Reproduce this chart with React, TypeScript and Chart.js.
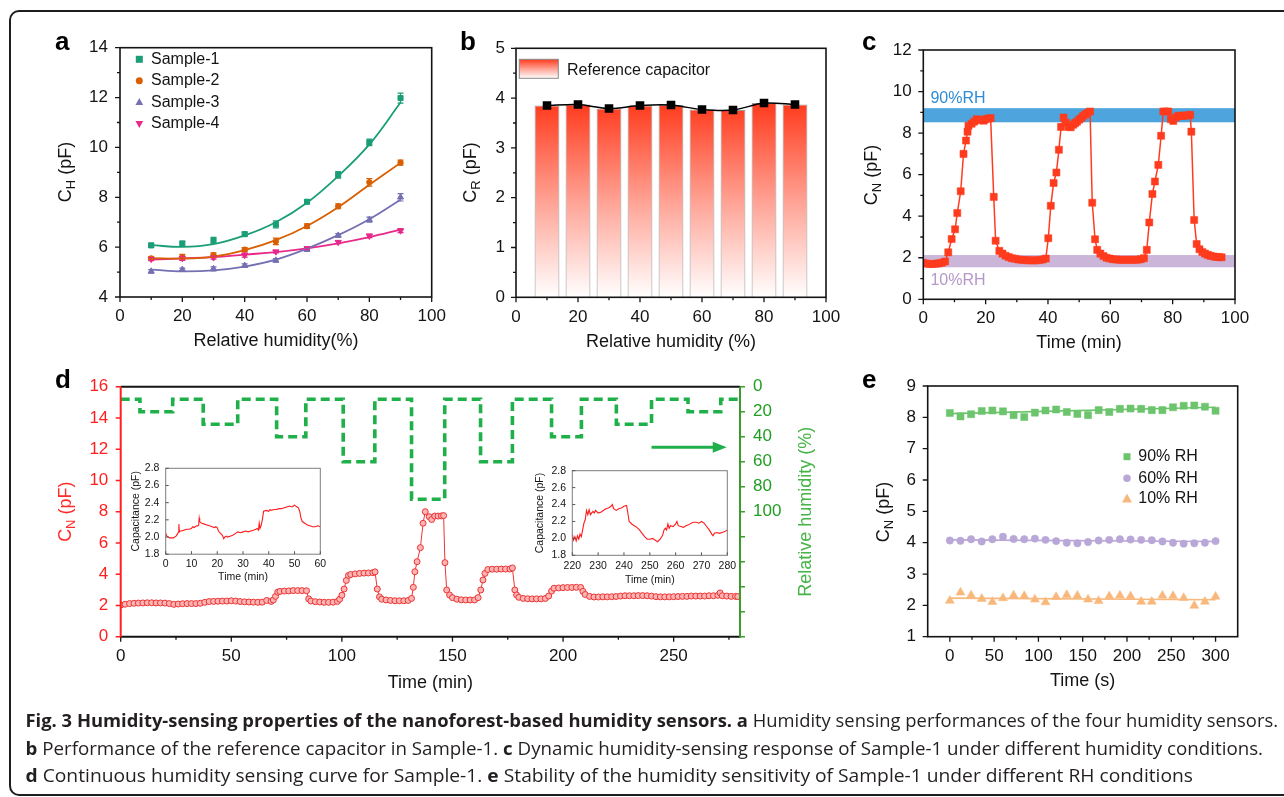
import React, { useEffect, useRef } from 'react';
import { Chart, registerables } from 'chart.js';

Chart.register(...registerables);

const PAGE_W = 1284;
const PAGE_H = 797;
const SANS = "'Liberation Sans', Arial, Helvetica, sans-serif";
const CAP_FONT = "'Open Sans', 'Noto Sans', sans-serif";
Chart.defaults.font.family = SANS;

/* ---------------- panel a ---------------- */
const rhA = [10, 20, 30, 40, 50, 60, 70, 80, 90];
const sample1 = [6.07, 6.14, 6.27, 6.52, 6.91, 7.82, 8.9, 10.2, 11.98];
const sample1Err = [0.08, 0.1, 0.12, 0.08, 0.14, 0.08, 0.13, 0.13, 0.2];
const sample1Fit = [6.08, 6.01, 6.12, 6.47, 7.0, 7.78, 8.85, 10.12, 11.8];
const sample2 = [5.55, 5.6, 5.68, 5.9, 6.23, 6.84, 7.64, 8.6, 9.39];
const sample2Err = [0.07, 0.11, 0.09, 0.08, 0.13, 0.09, 0.1, 0.15, 0.1];
const sample2Fit = [5.56, 5.54, 5.62, 5.88, 6.28, 6.85, 7.6, 8.5, 9.38];
const sample3 = [5.03, 5.1, 5.13, 5.26, 5.47, 5.9, 6.47, 7.1, 8.0];
const sample3Err = [0.07, 0.06, 0.08, 0.07, 0.07, 0.05, 0.07, 0.1, 0.15];
const sample3Fit = [5.1, 5.03, 5.07, 5.22, 5.5, 5.94, 6.48, 7.12, 7.9];
const sample4 = [5.52, 5.55, 5.58, 5.68, 5.82, 5.95, 6.2, 6.45, 6.66];
const sample4Err = [0.06, 0.08, 0.06, 0.08, 0.05, 0.05, 0.06, 0.07, 0.08];
const sample4Fit = [5.5, 5.55, 5.6, 5.7, 5.8, 5.95, 6.15, 6.4, 6.7];
const aXTicks = [0, 20, 40, 60, 80, 100];
const aYTicks = [4, 6, 8, 10, 12, 14];
const aXMinor = [10, 30, 50, 70, 90];
const aYMinor = [5, 7, 9, 11, 13];

/* ---------------- panel b ---------------- */
const rhB = [10, 20, 30, 40, 50, 60, 70, 80, 90];
const refCap = [3.85, 3.87, 3.79, 3.85, 3.86, 3.77, 3.76, 3.9, 3.87];
const bXTicks = [0, 20, 40, 60, 80, 100];
const bYTicks = [0, 1, 2, 3, 4, 5];
const bXMinor = [10, 30, 50, 70, 90];
const bYMinor = [0.5, 1.5, 2.5, 3.5, 4.5];

/* ---------------- panel c ---------------- */
const dynC: [number, number][] = [
  [0, 1.75], [1, 1.72], [2, 1.7], [3, 1.7], [4, 1.71], [5, 1.73], [6, 1.76], [7, 1.82], [8, 2.26], [9.1, 2.9],
  [10.2, 3.37], [10.9, 4.15], [12, 5.2], [12.9, 7.0], [13.7, 7.64], [14.2, 8.07], [14.5, 8.35], [15.5, 8.45],
  [16.3, 8.55], [17.1, 8.67], [17.9, 8.62], [18.7, 8.64], [19.4, 8.6], [20, 8.67], [20.8, 8.7], [21.6, 8.72],
  [22.6, 4.93], [23.2, 2.82], [24.4, 2.33], [25.4, 2.2], [26.4, 2.1], [27.4, 2.03], [28.4, 1.98], [29.4, 1.95],
  [30.4, 1.92], [31.4, 1.9], [32.4, 1.89], [33.4, 1.88], [34.4, 1.88], [35.4, 1.87], [36.4, 1.88], [37.4, 1.89],
  [38.4, 1.92], [39.3, 1.96], [40.1, 2.94], [40.9, 4.5], [41.8, 5.6], [42.7, 6.1], [43.5, 7.2], [44.2, 8.3],
  [45, 8.75], [45.8, 8.5], [46.6, 8.3], [47.3, 8.28], [48.1, 8.4], [48.7, 8.48], [49.3, 8.55], [50, 8.65],
  [50.7, 8.72], [51.3, 8.82], [52, 8.9], [52.7, 8.98], [53.5, 9.04], [54.2, 4.65], [55.1, 2.89], [55.8, 2.38],
  [56.8, 2.2], [57.8, 2.08], [58.8, 2.0], [59.8, 1.96], [60.8, 1.93], [61.8, 1.92], [62.8, 1.9], [63.8, 1.9],
  [64.8, 1.9], [65.8, 1.9], [66.8, 1.9], [67.8, 1.9], [68.8, 1.91], [69.8, 1.93], [70.8, 1.98], [71.7, 2.38],
  [72.5, 3.7], [73.5, 5.07], [74.3, 5.67], [75.4, 6.47], [76.3, 7.87], [77, 9.04], [77.8, 9.04], [78.6, 9.04],
  [79.4, 8.67], [80.2, 8.59], [81, 8.75], [81.8, 8.83], [82.6, 8.83], [83.4, 8.83], [84.2, 8.85], [85, 8.85],
  [85.6, 8.88], [86, 8.07], [86.9, 3.82], [87.7, 2.66], [88.6, 2.41], [89.5, 2.28], [90.4, 2.2], [91.3, 2.14],
  [92.2, 2.09], [93.1, 2.06], [94, 2.04], [94.9, 2.03], [95.7, 2.02],
];
const band90 = [8.52, 9.2];
const band10 = [1.54, 2.13];
const cXTicks = [0, 20, 40, 60, 80, 100];
const cYTicks = [0, 2, 4, 6, 8, 10, 12];
const cXMinor = [10, 30, 50, 70, 90];
const cYMinor = [1, 3, 5, 7, 9, 11];

/* ---------------- panel d ---------------- */
const capD: [number, number][] = [
  [0, 2.02], [2, 2.08], [4, 2.12], [6, 2.14], [8, 2.15], [10, 2.16], [12, 2.17], [14, 2.17], [16, 2.16], [18, 2.16],
  [20, 2.15], [22, 2.12], [24, 2.07], [26, 2.09], [28, 2.11], [30, 2.12], [32, 2.12], [34, 2.12], [36, 2.14], [38, 2.2],
  [40, 2.25], [42, 2.26], [44, 2.27], [46, 2.28], [48, 2.28], [50, 2.3], [52, 2.28], [54, 2.25], [56, 2.23], [58, 2.22],
  [60, 2.21], [62, 2.2], [64, 2.21], [66, 2.32], [68, 2.26], [69, 2.35], [70, 2.58], [71, 2.85], [72, 2.9], [74, 2.92],
  [76, 2.93], [78, 2.95], [80, 2.95], [82, 2.95], [84, 2.94], [85, 2.42], [86, 2.28], [88, 2.24], [90, 2.22], [92, 2.2],
  [94, 2.2], [96, 2.21], [98, 2.26], [99, 2.4], [100, 2.65], [101, 3.05], [102, 3.6], [103, 3.92], [104, 3.98], [106, 4.02],
  [108, 4.05], [110, 4.07], [112, 4.08], [114, 4.1], [115, 4.15], [116, 3.05], [117, 2.55], [118, 2.4], [120, 2.35], [122, 2.32],
  [124, 2.3], [126, 2.3], [128, 2.3], [130, 2.32], [131.5, 2.45], [132.3, 3.16], [133, 4.16], [134, 4.8], [135.5, 5.7], [136.7, 7.26],
  [137.7, 8.0], [139.5, 7.68], [140.6, 7.5], [142, 7.72], [143.5, 7.72], [145, 7.73], [146, 7.75], [146.6, 4.74], [147.4, 2.99], [148.7, 2.67],
  [150, 2.5], [152, 2.4], [154, 2.36], [156, 2.35], [158, 2.35], [160, 2.35], [161.6, 2.5], [162.8, 2.99], [163.8, 3.63], [164.7, 4.05],
  [166, 4.3], [168, 4.32], [170, 4.32], [172, 4.33], [174, 4.33], [176, 4.33], [177.1, 4.4], [178.2, 2.99], [179, 2.67], [180, 2.52],
  [182, 2.45], [184, 2.43], [186, 2.42], [188, 2.42], [190, 2.42], [192, 2.45], [193.5, 2.6], [194.8, 2.92], [195.9, 3.1], [198, 3.12],
  [200, 3.14], [202, 3.15], [204, 3.15], [206, 3.16], [208, 3.15], [209, 2.9], [210, 2.7], [212, 2.58], [214, 2.54], [216, 2.54],
  [218, 2.55], [220, 2.55], [222, 2.56], [224, 2.57], [226, 2.6], [228, 2.62], [230, 2.62], [232, 2.62], [234, 2.63], [236, 2.63],
  [238, 2.62], [240, 2.6], [242, 2.56], [244, 2.55], [246, 2.55], [248, 2.55], [250, 2.56], [252, 2.57], [254, 2.58], [256, 2.58],
  [258, 2.6], [260, 2.6], [262, 2.6], [264, 2.6], [266, 2.62], [268, 2.62], [270, 2.65], [271, 2.8], [272, 2.62], [274, 2.6],
  [276, 2.58], [278, 2.58], [279, 2.57],
];
const rhStepD: [number, number][] = [
  [0, 10], [8.7, 20], [23.5, 10], [37.3, 30], [52.9, 10], [70.5, 40], [83.7, 10], [100.6, 60], [114.9, 10], [131.5, 90],
  [146.5, 10], [162.7, 60], [177.1, 10], [194.8, 40], [208.3, 10], [224.1, 30], [240, 10], [256.5, 20], [271.3, 10], [280, 10],
];
const arrowRH = 48.5;
const arrowTime = [240, 274];
const dXTicks = [0, 50, 100, 150, 200, 250];
const dXMinor = [25, 75, 125, 175, 225, 275];
const dYTicks = [0, 2, 4, 6, 8, 10, 12, 14, 16];
const dY2Ticks = [0, 20, 40, 60, 80, 100];
const dY2Marks = [0, 20, 40, 60, 80, 100, 120, 140, 160, 180, 200];

const inset1: [number, number][] = [
  [0, 2.04], [0.5, 2.01], [1, 2.0], [1.5, 1.99], [2, 1.99], [3, 1.99], [4, 2.01], [4.5, 2.03], [5, 2.06], [5.1, 2.15],
  [5.3, 2.06], [5.6, 2.07], [6, 2.07], [7, 2.08], [8, 2.09], [9, 2.09], [10, 2.1], [10.5, 2.12], [11, 2.11], [12, 2.13],
  [12.5, 2.13], [12.8, 2.14], [13, 2.22], [13.2, 2.18], [13.5, 2.17], [14, 2.16], [15, 2.15], [16, 2.14], [17, 2.13], [18, 2.12],
  [19, 2.11], [19.5, 2.12], [20, 2.11], [20.5, 2.07], [21, 2.05], [22, 2.02], [22.5, 1.98], [23, 2.0], [23.5, 2.01], [24, 2.0],
  [25, 2.01], [26, 2.02], [27, 2.04], [28, 2.06], [29, 2.05], [30, 2.06], [31, 2.07], [32, 2.06], [33, 2.07], [34, 2.08],
  [35, 2.09], [35.5, 2.1], [36, 2.08], [36.3, 2.16], [36.6, 2.1], [37, 2.13], [37.5, 2.2], [38, 2.3], [39, 2.31], [40, 2.3],
  [40.5, 2.32], [41, 2.31], [42, 2.32], [43, 2.32], [44, 2.33], [45, 2.33], [46, 2.34], [47, 2.35], [48, 2.36], [49, 2.35],
  [50, 2.37], [50.5, 2.36], [51, 2.35], [51.5, 2.34], [52, 2.3], [52.5, 2.22], [53, 2.18], [54, 2.16], [55, 2.14], [56, 2.13],
  [57, 2.12], [58, 2.12], [59, 2.13], [60, 2.12],
];
const inset2: [number, number][] = [
  [220, 2.05], [220.5, 1.98], [221, 2.02], [221.5, 1.97], [222, 2.03], [222.5, 1.99], [223, 2.05], [223.5, 2.02], [224, 2.1], [224.5, 2.18],
  [225, 2.22], [225.5, 2.33], [226, 2.28], [226.5, 2.34], [227, 2.28], [228, 2.32], [228.5, 2.3], [229, 2.33], [230, 2.3], [231, 2.31],
  [232, 2.33], [233, 2.35], [234, 2.36], [235, 2.38], [235.5, 2.4], [236, 2.35], [237, 2.33], [238, 2.35], [239, 2.36], [240, 2.38],
  [241, 2.39], [241.5, 2.3], [242, 2.2], [243, 2.17], [244, 2.15], [245, 2.13], [246, 2.1], [247, 2.06], [248, 2.02], [249, 1.99],
  [250, 1.99], [251, 2.0], [252, 1.98], [253, 1.96], [254, 1.99], [255, 2.04], [255.5, 2.1], [256, 2.12], [256.5, 2.1], [257, 2.17],
  [257.5, 2.12], [258, 2.15], [259, 2.14], [260, 2.17], [260.5, 2.2], [261, 2.15], [262, 2.14], [263, 2.13], [264, 2.15], [265, 2.16],
  [266, 2.18], [267, 2.19], [268, 2.19], [269, 2.18], [270, 2.2], [271, 2.18], [272, 2.14], [273, 2.1], [274, 2.05], [274.5, 2.03],
  [275, 2.06], [276, 2.07], [277, 2.06], [278, 2.07], [279, 2.08], [280, 2.1],
];
const i1XTicks = [0, 10, 20, 30, 40, 50, 60];
const i2XTicks = [220, 230, 240, 250, 260, 270, 280];
const insetYTicks = [1.8, 2.0, 2.2, 2.4, 2.6, 2.8];

/* ---------------- panel e ---------------- */
const timeE = [0, 12, 24, 36, 48, 60, 72, 84, 96, 108, 120, 132, 144, 156, 168, 180, 192, 204, 216, 228, 240, 252, 264, 276, 288, 300];
const rh90 = [8.14, 8.03, 8.1, 8.2, 8.22, 8.19, 8.07, 8.01, 8.15, 8.22, 8.25, 8.17, 8.11, 8.07, 8.23, 8.17, 8.27, 8.28, 8.27, 8.23, 8.23, 8.32, 8.37, 8.38, 8.34, 8.21];
const rh60 = [4.07, 4.06, 4.11, 4.04, 4.11, 4.19, 4.12, 4.11, 4.13, 4.09, 4.05, 4.0, 3.98, 4.02, 4.07, 4.09, 4.11, 4.1, 4.09, 4.08, 4.04, 4.0, 3.97, 3.98, 4.0, 4.05];
const rh10 = [2.15, 2.41, 2.32, 2.21, 2.11, 2.23, 2.32, 2.3, 2.19, 2.1, 2.27, 2.33, 2.31, 2.19, 2.14, 2.29, 2.32, 2.29, 2.12, 2.12, 2.31, 2.3, 2.24, 1.99, 2.12, 2.28];
const fitTimeE = [0, 300];
const fit90 = [8.12, 8.32];
const fit60 = [4.09, 4.04];
const fit10 = [2.23, 2.18];
const eXTicks = [0, 50, 100, 150, 200, 250, 300];
const eXMinor = [25, 75, 125, 175, 225, 275];
const eYTicks = [1, 2, 3, 4, 5, 6, 7, 8, 9];

/* ---------------- caption ---------------- */
const captionLines: [string, boolean][][] = [
  [['Fig. 3 Humidity-sensing properties of the nanoforest-based humidity sensors.', true], [' ', false], ['a', true], [' Humidity sensing performances of the four humidity sensors.', false]],
  [['b', true], [' Performance of the reference capacitor in Sample-1. ', false], ['c', true], [' Dynamic humidity-sensing response of Sample-1 under different humidity conditions.', false]],
  [['d', true], [' Continuous humidity sensing curve for Sample-1. ', false], ['e', true], [' Stability of the humidity sensitivity of Sample-1 under different RH conditions', false]],
];

/* ---------------- layout ---------------- */
type Area = { l: number; t: number; r: number; b: number };
const AREA_A: Area = { l: 120, t: 47.7, r: 431.7, b: 297 };
const AREA_B: Area = { l: 516, t: 48.3, r: 826, b: 297.3 };
const AREA_C: Area = { l: 923.3, t: 50, r: 1235, b: 299.3 };
const AREA_D: Area = { l: 120.7, t: 386.7, r: 740, b: 636.7 };
const AREA_E: Area = { l: 927.7, t: 386, r: 1237.7, b: 636.7 };
const AREA_I1: Area = { l: 165.7, t: 468.3, r: 320.3, b: 554.2 };
const AREA_I2: Area = { l: 572.3, t: 470.7, r: 727.3, b: 555.3 };

const INK = '#141414';

function padFor(area: Area, yW: number, xH: number, rW = 0) {
  return { left: area.l - yW, top: area.t, right: PAGE_W - area.r - rW, bottom: PAGE_H - area.b - xH };
}

function axis(position: string, min: number, max: number, ticks: number[], o: any = {}) {
  const vertical = position === 'left' || position === 'right';
  const fixed = o.fixed ?? (vertical ? 60 : 40);
  return {
    type: 'linear',
    position,
    min,
    max,
    reverse: !!o.reverse,
    offset: false,
    afterBuildTicks: (s: any) => {
      s.ticks = ticks.map((v) => ({ value: v }));
    },
    afterFit: (s: any) => {
      if (vertical) s.width = fixed;
      else s.height = fixed;
    },
    ticks: {
      padding: o.pad ?? 10,
      color: o.color ?? INK,
      font: { family: SANS, size: o.size ?? 17 },
      autoSkip: false,
      maxRotation: 0,
      minRotation: 0,
      callback: (v: any) => (o.fmt ? o.fmt(v) : String(v)),
    },
    grid: { display: false, drawTicks: false },
    border: { display: false },
  };
}

const xy = (xs: number[], ys: number[]) => xs.map((x, i) => ({ x, y: ys[i] }));
const pts = (p: [number, number][]) => p.map(([x, y]) => ({ x, y }));

function frame(ctx: any, ca: any, color: string, w: number) {
  ctx.save();
  ctx.strokeStyle = color;
  ctx.lineWidth = w;
  ctx.strokeRect(ca.left, ca.top, ca.right - ca.left, ca.bottom - ca.top);
  ctx.restore();
}

function tickMarks(ctx: any, chart: any, id: string, values: number[], len: number, color: string, lw = 1.3) {
  const s = chart.scales[id];
  const ca = chart.chartArea;
  ctx.save();
  ctx.strokeStyle = color;
  ctx.lineWidth = lw;
  ctx.beginPath();
  for (const v of values) {
    const p = s.getPixelForValue(v);
    if (s.position === 'bottom') {
      ctx.moveTo(p, ca.bottom);
      ctx.lineTo(p, ca.bottom + len);
    } else if (s.position === 'left') {
      ctx.moveTo(ca.left, p);
      ctx.lineTo(ca.left - len, p);
    } else if (s.position === 'right') {
      ctx.moveTo(ca.right, p);
      ctx.lineTo(ca.right + len, p);
    }
  }
  ctx.stroke();
  ctx.restore();
}

function txt(ctx: any, s: string, x: number, y: number, o: any = {}) {
  ctx.save();
  ctx.font = `${o.bold ? 'bold ' : ''}${o.size ?? 16}px ${o.font ?? SANS}`;
  ctx.fillStyle = o.color ?? INK;
  ctx.textAlign = o.align ?? 'left';
  ctx.textBaseline = o.baseline ?? 'middle';
  if (o.rotate) {
    ctx.translate(x, y);
    ctx.rotate(o.rotate);
    ctx.fillText(s, 0, 0);
  } else {
    ctx.fillText(s, x, y);
  }
  ctx.restore();
}

function letter(ctx: any, s: string, x: number, baseline: number) {
  txt(ctx, s, x, baseline, { size: 26, bold: true, baseline: 'alphabetic', color: '#000' });
}

function richTitle(ctx: any, parts: [string, boolean][], cx: number, cy: number, size: number, color: string, rotate = 0) {
  ctx.save();
  ctx.translate(cx, cy);
  if (rotate) ctx.rotate(rotate);
  ctx.fillStyle = color;
  ctx.textBaseline = 'middle';
  ctx.textAlign = 'left';
  const sub = size * 0.72;
  let total = 0;
  const widths: number[] = [];
  for (const [t, isSub] of parts) {
    ctx.font = `${isSub ? sub : size}px ${SANS}`;
    const w = ctx.measureText(t).width;
    widths.push(w);
    total += w;
  }
  let x = -total / 2;
  parts.forEach(([t, isSub], i) => {
    ctx.font = `${isSub ? sub : size}px ${SANS}`;
    ctx.fillText(t, x, isSub ? size * 0.3 : 0);
    x += widths[i];
  });
  ctx.restore();
}

function shape(ctx: any, kind: string, x: number, y: number, s: number, color: string) {
  ctx.save();
  ctx.fillStyle = color;
  ctx.beginPath();
  if (kind === 'square') ctx.rect(x - s / 2, y - s / 2, s, s);
  else if (kind === 'circle') ctx.arc(x, y, s / 2, 0, Math.PI * 2);
  else if (kind === 'tri') {
    ctx.moveTo(x, y - s * 0.6);
    ctx.lineTo(x + s * 0.55, y + s * 0.4);
    ctx.lineTo(x - s * 0.55, y + s * 0.4);
    ctx.closePath();
  } else if (kind === 'tridown') {
    ctx.moveTo(x, y + s * 0.6);
    ctx.lineTo(x + s * 0.55, y - s * 0.4);
    ctx.lineTo(x - s * 0.55, y - s * 0.4);
    ctx.closePath();
  }
  ctx.fill();
  ctx.restore();
}

const baseOpts = (padding: any) => ({
  responsive: false,
  animation: false,
  events: [],
  layout: { padding },
  plugins: { legend: { display: false }, tooltip: { enabled: false } },
});

/* ---------------- configs ---------------- */
function configA() {
  const series = [
    { label: 'Sample-1', y: sample1, err: sample1Err, fit: sample1Fit, color: '#1b9e77', style: 'rect', rot: 0, r: 3.6, legend: 'square' },
    { label: 'Sample-2', y: sample2, err: sample2Err, fit: sample2Fit, color: '#d95f02', style: 'circle', rot: 0, r: 2.7, legend: 'circle' },
    { label: 'Sample-3', y: sample3, err: sample3Err, fit: sample3Fit, color: '#7570b3', style: 'triangle', rot: 0, r: 3.5, legend: 'tri' },
    { label: 'Sample-4', y: sample4, err: sample4Err, fit: sample4Fit, color: '#e7298a', style: 'triangle', rot: 180, r: 3.5, legend: 'tridown' },
  ];
  const datasets: any[] = [];
  series.forEach((s) =>
    datasets.push({
      label: s.label,
      data: xy(rhA, s.y),
      showLine: false,
      pointStyle: s.style,
      pointRotation: s.rot,
      pointRadius: s.r,
      pointBackgroundColor: s.color,
      pointBorderColor: s.color,
      pointBorderWidth: 1,
    })
  );
  series.forEach((s) =>
    datasets.push({
      label: s.label + ' fit',
      data: xy(rhA, s.fit),
      showLine: true,
      borderColor: s.color,
      borderWidth: 1.8,
      pointRadius: 0,
      tension: 0.4,
    })
  );
  const legendY = [59.3, 80.8, 102.3, 123.8];
  return {
    type: 'scatter',
    data: { datasets },
    options: {
      ...baseOpts(padFor(AREA_A, 60, 40)),
      scales: {
        x: axis('bottom', 0, 100, aXTicks, { pad: 9.5 }),
        y: axis('left', 4, 14, aYTicks, { pad: 12 }),
      },
    },
    plugins: [
      {
        id: 'decorA',
        afterDatasetsDraw(chart: any) {
          const ctx = chart.ctx;
          const xs = chart.scales.x;
          const ys = chart.scales.y;
          series.forEach((s) => {
            ctx.save();
            ctx.strokeStyle = s.color;
            ctx.lineWidth = 1.2;
            ctx.beginPath();
            rhA.forEach((x, i) => {
              const p = xs.getPixelForValue(x);
              const y1 = ys.getPixelForValue(s.y[i] + s.err[i]);
              const y2 = ys.getPixelForValue(s.y[i] - s.err[i]);
              ctx.moveTo(p, y1);
              ctx.lineTo(p, y2);
              ctx.moveTo(p - 3, y1);
              ctx.lineTo(p + 3, y1);
              ctx.moveTo(p - 3, y2);
              ctx.lineTo(p + 3, y2);
            });
            ctx.stroke();
            ctx.restore();
          });
        },
        afterDraw(chart: any) {
          const ctx = chart.ctx;
          frame(ctx, chart.chartArea, INK, 1.6);
          tickMarks(ctx, chart, 'x', aXTicks, 5, INK);
          tickMarks(ctx, chart, 'x', aXMinor, 3, INK);
          tickMarks(ctx, chart, 'y', aYTicks, 5, INK);
          tickMarks(ctx, chart, 'y', aYMinor, 3, INK);
          series.forEach((s, i) => {
            shape(ctx, s.legend, 139.3, legendY[i], 7, s.color);
            txt(ctx, s.label, 151, legendY[i], { size: 16 });
          });
          letter(ctx, 'a', 55, 50);
          richTitle(ctx, [['C', false], ['H', true], [' (pF)', false]], 66, 172, 18, INK, -Math.PI / 2);
          txt(ctx, 'Relative humidity(%)', 276, 341, { size: 18, align: 'center' });
        },
      },
    ],
  };
}

function barGradient(ctx: any, y0: number, y1: number) {
  const g = ctx.createLinearGradient(0, y0, 0, y1);
  g.addColorStop(0, '#ff3a1c');
  g.addColorStop(0.5, '#ffa193');
  g.addColorStop(1, '#ffffff');
  return g;
}

function configB() {
  return {
    type: 'bar',
    data: {
      datasets: [
        {
          type: 'line',
          label: 'Reference capacitor (points)',
          data: xy(rhB, refCap),
          borderColor: '#000',
          borderWidth: 1.5,
          pointStyle: 'rect',
          pointRadius: 5,
          pointBackgroundColor: '#000',
          pointBorderColor: '#000',
          tension: 0.3,
        },
        {
          type: 'bar',
          label: 'Reference capacitor',
          data: xy(rhB, refCap),
          backgroundColor: (c: any) => {
            const ch = c.chart;
            if (!ch.chartArea) return '#ff6040';
            const ys = ch.scales.y;
            return barGradient(ch.ctx, ys.getPixelForValue(3.9), ys.getPixelForValue(0));
          },
          borderColor: '#9a9a9a',
          borderWidth: 1,
          categoryPercentage: 1,
          barPercentage: 0.8,
        },
      ],
    },
    options: {
      ...baseOpts(padFor(AREA_B, 60, 40)),
      scales: {
        x: axis('bottom', 0, 100, bXTicks, { pad: 10 }),
        y: axis('left', 0, 5, bYTicks, { pad: 11 }),
      },
    },
    plugins: [
      {
        id: 'decorB',
        afterDraw(chart: any) {
          const ctx = chart.ctx;
          frame(ctx, chart.chartArea, INK, 1.6);
          tickMarks(ctx, chart, 'x', bXTicks, 5, INK);
          tickMarks(ctx, chart, 'x', bXMinor, 3, INK);
          tickMarks(ctx, chart, 'y', bYTicks, 5, INK);
          tickMarks(ctx, chart, 'y', bYMinor, 3, INK);
          ctx.save();
          ctx.fillStyle = barGradient(ctx, 59.3, 78.3);
          ctx.fillRect(519.3, 59.3, 39, 19);
          ctx.strokeStyle = '#8a8a8a';
          ctx.lineWidth = 1;
          ctx.strokeRect(519.3, 59.3, 39, 19);
          ctx.restore();
          txt(ctx, 'Reference capacitor', 567, 70.5, { size: 16 });
          letter(ctx, 'b', 460, 50);
          richTitle(ctx, [['C', false], ['R', true], [' (pF)', false]], 471, 172.5, 18, INK, -Math.PI / 2);
          txt(ctx, 'Relative humidity (%)', 671, 342, { size: 18, align: 'center' });
        },
      },
    ],
  };
}

function configC() {
  return {
    type: 'scatter',
    data: {
      datasets: [
        {
          label: 'Sample-1',
          data: pts(dynC),
          showLine: true,
          borderColor: '#ff3b1e',
          borderWidth: 1.5,
          pointStyle: 'rect',
          pointRadius: 5,
          pointBackgroundColor: '#ff3b1e',
          pointBorderColor: '#ff3b1e',
          pointBorderWidth: 0.5,
          tension: 0,
        },
      ],
    },
    options: {
      ...baseOpts(padFor(AREA_C, 60, 40)),
      scales: {
        x: axis('bottom', 0, 100, cXTicks, { pad: 8.8 }),
        y: axis('left', 0, 12, cYTicks, { pad: 11.6 }),
      },
    },
    plugins: [
      {
        id: 'decorC',
        beforeDatasetsDraw(chart: any) {
          const ctx = chart.ctx;
          const ca = chart.chartArea;
          const ys = chart.scales.y;
          ctx.save();
          ctx.fillStyle = '#4ea5de';
          ctx.fillRect(ca.left, ys.getPixelForValue(band90[1]), ca.right - ca.left, ys.getPixelForValue(band90[0]) - ys.getPixelForValue(band90[1]));
          ctx.fillStyle = '#cbb6da';
          ctx.fillRect(ca.left, ys.getPixelForValue(band10[1]), ca.right - ca.left, ys.getPixelForValue(band10[0]) - ys.getPixelForValue(band10[1]));
          ctx.restore();
        },
        afterDraw(chart: any) {
          const ctx = chart.ctx;
          const xs = chart.scales.x;
          const ys = chart.scales.y;
          frame(ctx, chart.chartArea, INK, 1.6);
          tickMarks(ctx, chart, 'x', cXTicks, 5, INK);
          tickMarks(ctx, chart, 'x', cXMinor, 3, INK);
          tickMarks(ctx, chart, 'y', cYTicks, 5, INK);
          tickMarks(ctx, chart, 'y', cYMinor, 3, INK);
          txt(ctx, '90%RH', xs.getPixelForValue(2.3), ys.getPixelForValue(9.65), { size: 16, color: '#2f8bd3' });
          txt(ctx, '10%RH', xs.getPixelForValue(2.3), ys.getPixelForValue(0.9), { size: 16, color: '#b597c9' });
          letter(ctx, 'c', 862, 49.5);
          richTitle(ctx, [['C', false], ['N', true], [' (pF)', false]], 872, 175, 18, INK, -Math.PI / 2);
          txt(ctx, 'Time (min)', 1079, 343, { size: 18, align: 'center' });
        },
      },
    ],
  };
}

const RED_AX = '#ff1f1f';
const GREEN_AX = '#1f9e22';
const GREEN_LINE = '#1fb04a';

function configD() {
  return {
    type: 'scatter',
    data: {
      datasets: [
        {
          label: 'Capacitance',
          yAxisID: 'y',
          data: pts(capD),
          showLine: true,
          borderColor: '#ee3535',
          borderWidth: 1,
          pointRadius: 3,
          pointBackgroundColor: '#ffb4b4',
          pointBorderColor: '#ea3434',
          pointBorderWidth: 1,
        },
        {
          label: 'Relative humidity',
          yAxisID: 'y2',
          data: pts(rhStepD),
          showLine: true,
          stepped: true,
          borderColor: GREEN_LINE,
          borderWidth: 3.6,
          borderDash: [9, 5],
          borderCapStyle: 'butt',
          pointRadius: 0,
        },
      ],
    },
    options: {
      ...baseOpts(padFor(AREA_D, 60, 40, 60)),
      scales: {
        x: axis('bottom', 0, 280, dXTicks, { pad: 9.8 }),
        y: axis('left', 0, 16, dYTicks, { pad: 12.4, color: RED_AX }),
        y2: axis('right', 0, 200, dY2Ticks, { pad: 13, color: GREEN_AX, reverse: true }),
      },
    },
    plugins: [
      {
        id: 'decorD',
        afterDraw(chart: any) {
          const ctx = chart.ctx;
          const ca = chart.chartArea;
          const xs = chart.scales.x;
          const y2 = chart.scales.y2;
          ctx.save();
          ctx.lineWidth = 2;
          ctx.strokeStyle = INK;
          ctx.beginPath();
          ctx.moveTo(ca.left, ca.top);
          ctx.lineTo(ca.right, ca.top);
          ctx.moveTo(ca.left, ca.bottom);
          ctx.lineTo(ca.right, ca.bottom);
          ctx.stroke();
          ctx.strokeStyle = RED_AX;
          ctx.beginPath();
          ctx.moveTo(ca.left, ca.top);
          ctx.lineTo(ca.left, ca.bottom + 1);
          ctx.stroke();
          ctx.strokeStyle = '#3d9a2c';
          ctx.beginPath();
          ctx.moveTo(ca.right, ca.top);
          ctx.lineTo(ca.right, ca.bottom + 1);
          ctx.stroke();
          ctx.restore();
          tickMarks(ctx, chart, 'x', dXTicks, 5, INK);
          tickMarks(ctx, chart, 'x', dXMinor, 3, INK);
          tickMarks(ctx, chart, 'y', dYTicks, 5, RED_AX, 1.6);
          tickMarks(ctx, chart, 'y2', dY2Marks, 5, '#3d9a2c', 1.6);
          const ax0 = xs.getPixelForValue(arrowTime[0]);
          const ax1 = xs.getPixelForValue(arrowTime[1]);
          const ay = y2.getPixelForValue(arrowRH);
          ctx.save();
          ctx.strokeStyle = GREEN_LINE;
          ctx.fillStyle = GREEN_LINE;
          ctx.lineWidth = 3;
          ctx.beginPath();
          ctx.moveTo(ax0, ay);
          ctx.lineTo(ax1 - 10, ay);
          ctx.stroke();
          ctx.beginPath();
          ctx.moveTo(ax1, ay);
          ctx.lineTo(ax1 - 14, ay - 5.5);
          ctx.lineTo(ax1 - 14, ay + 5.5);
          ctx.closePath();
          ctx.fill();
          ctx.restore();
          letter(ctx, 'd', 55, 388);
          richTitle(ctx, [['C', false], ['N', true], [' (pF)', false]], 66, 511.7, 18, '#ff2a2a', -Math.PI / 2);
          txt(ctx, 'Time (min)', 430.3, 683, { size: 18, align: 'center' });
          txt(ctx, 'Relative humidity (%)', 806, 511.7, { size: 18, align: 'center', color: '#46b446', rotate: -Math.PI / 2 });
        },
      },
    ],
  };
}

function configInset(area: Area, data: [number, number][], xTicks: number[], xMin: number, xMax: number, yTitleX: number, xTitleY: number, xPad: number) {
  return {
    type: 'scatter',
    data: {
      datasets: [
        {
          label: 'Capacitance',
          data: pts(data),
          showLine: true,
          borderColor: '#ff1a1a',
          borderWidth: 1.1,
          pointRadius: 0,
        },
      ],
    },
    options: {
      ...baseOpts(padFor(area, 35, 20)),
      scales: {
        x: axis('bottom', xMin, xMax, xTicks, { pad: xPad, size: 10.5, fixed: 20 }),
        y: axis('left', 1.8, 2.8, insetYTicks, { pad: 6.3, size: 10.5, fixed: 35, fmt: (v: number) => v.toFixed(1) }),
      },
    },
    plugins: [
      {
        id: 'insetBg',
        beforeDraw(chart: any) {
          const ca = chart.chartArea;
          if (!ca) return;
          const ctx = chart.ctx;
          ctx.save();
          ctx.fillStyle = '#fff';
          ctx.fillRect(ca.left, ca.top, ca.right - ca.left, ca.bottom - ca.top);
          ctx.restore();
        },
        afterDraw(chart: any) {
          const ctx = chart.ctx;
          const ca = chart.chartArea;
          frame(ctx, ca, '#7d7d7d', 1);
          tickMarks(ctx, chart, 'x', xTicks, -3, '#555', 1);
          tickMarks(ctx, chart, 'y', insetYTicks, -3, '#555', 1);
          txt(ctx, 'Capacitance (pF)', yTitleX, (ca.top + ca.bottom) / 2, { size: 10.5, align: 'center', rotate: -Math.PI / 2 });
          txt(ctx, 'Time (min)', (ca.left + ca.right) / 2, xTitleY, { size: 10.5, align: 'center' });
        },
      },
    ],
  };
}

function configE() {
  const GREEN = '#6cc46c';
  const PURPLE = '#b9a7d8';
  const ORANGE = '#f8b87c';
  return {
    type: 'scatter',
    data: {
      datasets: [
        { label: '90% RH', data: xy(timeE, rh90), showLine: false, pointStyle: 'rect', pointRadius: 5, pointBackgroundColor: GREEN, pointBorderColor: GREEN, pointBorderWidth: 0.5 },
        { label: '60% RH', data: xy(timeE, rh60), showLine: false, pointStyle: 'circle', pointRadius: 3.7, pointBackgroundColor: PURPLE, pointBorderColor: PURPLE, pointBorderWidth: 0.5 },
        { label: '10% RH', data: xy(timeE, rh10), showLine: false, pointStyle: 'triangle', pointRadius: 5.2, pointBackgroundColor: ORANGE, pointBorderColor: ORANGE, pointBorderWidth: 0.5 },
        { label: '90% RH fit', data: xy(fitTimeE, fit90), showLine: true, borderColor: GREEN, borderWidth: 1.6, pointRadius: 0 },
        { label: '60% RH fit', data: xy(fitTimeE, fit60), showLine: true, borderColor: PURPLE, borderWidth: 1.6, pointRadius: 0 },
        { label: '10% RH fit', data: xy(fitTimeE, fit10), showLine: true, borderColor: ORANGE, borderWidth: 1.6, pointRadius: 0 },
      ],
    },
    options: {
      ...baseOpts(padFor(AREA_E, 60, 40)),
      scales: {
        x: axis('bottom', -25, 325, eXTicks, { pad: 9.1 }),
        y: axis('left', 1, 9, eYTicks, { pad: 11.7 }),
      },
    },
    plugins: [
      {
        id: 'decorE',
        afterDraw(chart: any) {
          const ctx = chart.ctx;
          frame(ctx, chart.chartArea, INK, 1.6);
          tickMarks(ctx, chart, 'x', eXTicks, 5, INK);
          tickMarks(ctx, chart, 'x', eXMinor, 3, INK);
          tickMarks(ctx, chart, 'y', eYTicks, 5, INK);
          shape(ctx, 'square', 1127, 456.7, 7, GREEN);
          shape(ctx, 'circle', 1127, 478.3, 7.5, PURPLE);
          shape(ctx, 'tri', 1127, 498.8, 9, ORANGE);
          txt(ctx, '90% RH', 1138.3, 456.7, { size: 16 });
          txt(ctx, '60% RH', 1138.3, 478.3, { size: 16 });
          txt(ctx, '10% RH', 1138.3, 498.3, { size: 16 });
          letter(ctx, 'e', 862, 388);
          richTitle(ctx, [['C', false], ['N', true], [' (pF)', false]], 884, 512, 18, INK, -Math.PI / 2);
          txt(ctx, 'Time (s)', 1082.7, 681.5, { size: 18, align: 'center' });
        },
      },
    ],
  };
}

/* ---------------- components ---------------- */
const layerStyle: any = { position: 'absolute', left: 0, top: 0, width: PAGE_W, height: PAGE_H };

function ChartLayer({ make }: { make: () => any }) {
  const ref = useRef<HTMLCanvasElement>(null);
  useEffect(() => {
    const chart = new Chart(ref.current as HTMLCanvasElement, make());
    return () => chart.destroy();
  }, [make]);
  return <canvas ref={ref} width={PAGE_W} height={PAGE_H} style={layerStyle} />;
}

function CaptionLayer() {
  const ref = useRef<HTMLCanvasElement>(null);
  useEffect(() => {
    const c = ref.current as HTMLCanvasElement;
    const ctx = c.getContext('2d') as CanvasRenderingContext2D;
    ctx.clearRect(0, 0, PAGE_W, PAGE_H);
    ctx.fillStyle = '#fff';
    ctx.fillRect(0, 0, PAGE_W, PAGE_H);
    ctx.strokeStyle = '#1e1e1e';
    ctx.lineWidth = 2;
    ctx.beginPath();
    (ctx as any).roundRect(10, 11, 1300, 784, 9);
    ctx.stroke();
    const baselines = [727, 754.5, 782];
    const rights = [1278, 1263, 1193];
    const x0 = 25.5;
    const size = 17.5;
    captionLines.forEach((line, i) => {
      let total = 0;
      const widths: number[] = [];
      for (const [t, bold] of line) {
        ctx.font = `${bold ? '700 ' : '400 '}${size}px ${CAP_FONT}`;
        const w = ctx.measureText(t).width;
        widths.push(w);
        total += w;
      }
      const sx = (rights[i] - x0) / total;
      ctx.save();
      ctx.translate(x0, baselines[i]);
      ctx.scale(sx, 1);
      ctx.fillStyle = '#231f20';
      ctx.textBaseline = 'alphabetic';
      let x = 0;
      line.forEach(([t, bold], j) => {
        ctx.font = `${bold ? '700 ' : '400 '}${size}px ${CAP_FONT}`;
        ctx.fillText(t, x, 0);
        x += widths[j];
      });
      ctx.restore();
    });
  }, []);
  return <canvas ref={ref} width={PAGE_W} height={PAGE_H} style={layerStyle} />;
}

const makeI1 = () => configInset(AREA_I1, inset1, i1XTicks, 0, 60, 136, 577.5, 3.5);
const makeI2 = () => configInset(AREA_I2, inset2, i2XTicks, 220, 280, 540, 580.5, 4.5);

export default function App() {
  useEffect(() => {
    document.body.style.margin = '0';
  }, []);
  return (
    <div style={{ position: 'relative', width: PAGE_W, height: PAGE_H, background: '#fff', overflow: 'hidden' }}>
      <style>{'body{margin:0;}'}</style>
      <CaptionLayer />
      <ChartLayer make={configA} />
      <ChartLayer make={configB} />
      <ChartLayer make={configC} />
      <ChartLayer make={configD} />
      <ChartLayer make={makeI1} />
      <ChartLayer make={makeI2} />
      <ChartLayer make={configE} />
    </div>
  );
}
